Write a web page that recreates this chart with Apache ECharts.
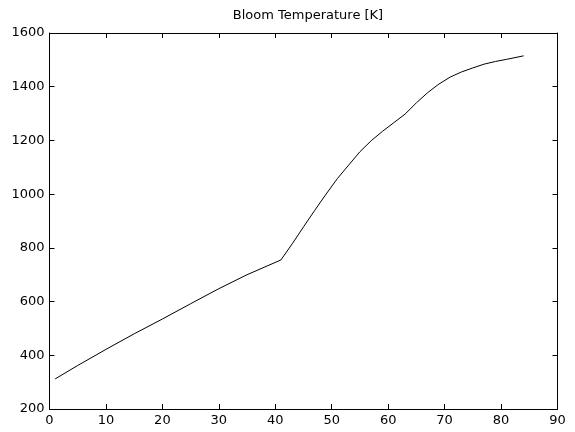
<!DOCTYPE html>
<html>
<head>
<meta charset="utf-8">
<script src="https://cdn.jsdelivr.net/npm/echarts@6/dist/echarts.min.js"></script>
<style>html,body{margin:0;padding:0;background:#fff}#c{width:575px;height:432px}</style>
</head>
<body>
<div id="c"></div>
<script>
var title = 'Bloom Temperature [K]';
var xs = [1, 5, 10, 15, 20, 25, 30, 35, 41, 43, 45, 47, 49, 51, 53, 55, 57, 59, 61, 63, 65, 67, 69, 71, 73, 75, 77, 79, 81, 84];
var temps = [312, 362, 422, 480, 535, 592, 648, 700, 755, 815, 878, 940, 1000, 1058, 1108, 1158, 1199, 1234, 1266, 1298, 1340, 1378, 1410, 1436, 1455, 1470, 1484, 1494, 1502, 1515];
var xTicks = [0, 10, 20, 30, 40, 50, 60, 70, 80, 90];
var yTicks = [200, 400, 600, 800, 1000, 1200, 1400, 1600];

var font = 'DejaVu Sans';
var data = xs.map(function (x, i) { return [x, temps[i]]; });
function axisBase(show) {
  return {
    axisLine: { show: true, onZero: false, lineStyle: { color: '#000', width: 1 } },
    axisTick: { show: true, inside: true, length: 5, lineStyle: { color: '#000' } },
    splitLine: { show: false },
    axisLabel: { show: show, color: '#000', fontFamily: font, fontSize: 13,
      formatter: function (v) { return String(v); } }
  };
}
var chart = echarts.init(document.getElementById('c'), null, { renderer: 'canvas' });
var xb = axisBase(true), xt = axisBase(false), yl = axisBase(true), yr = axisBase(false);
xb.axisLabel.margin = 5; yl.axisLabel.margin = 5;
chart.setOption({
  animation: false,
  title: { text: title, left: 303, top: 4, textAlign: 'center',
    textStyle: { fontFamily: font, fontSize: 13, fontWeight: 'normal', color: '#000' } },
  grid: { left: 49.5, right: 17.5, top: 33, bottom: 23, containLabel: false },
  xAxis: [
    Object.assign({ type: 'value', position: 'bottom', min: xTicks[0], max: xTicks[xTicks.length - 1], interval: 10 }, xb),
    Object.assign({ type: 'value', position: 'top', min: xTicks[0], max: xTicks[xTicks.length - 1], interval: 10 }, xt)
  ],
  yAxis: [
    Object.assign({ type: 'value', position: 'left', min: yTicks[0], max: yTicks[yTicks.length - 1], interval: 200 }, yl),
    Object.assign({ type: 'value', position: 'right', min: yTicks[0], max: yTicks[yTicks.length - 1], interval: 200 }, yr)
  ],
  series: [{
    type: 'line', data: data, xAxisIndex: 0, yAxisIndex: 0,
    showSymbol: false, symbol: 'none', smooth: false,
    lineStyle: { color: '#000', width: 1 }
  }]
});
</script>
</body>
</html>
